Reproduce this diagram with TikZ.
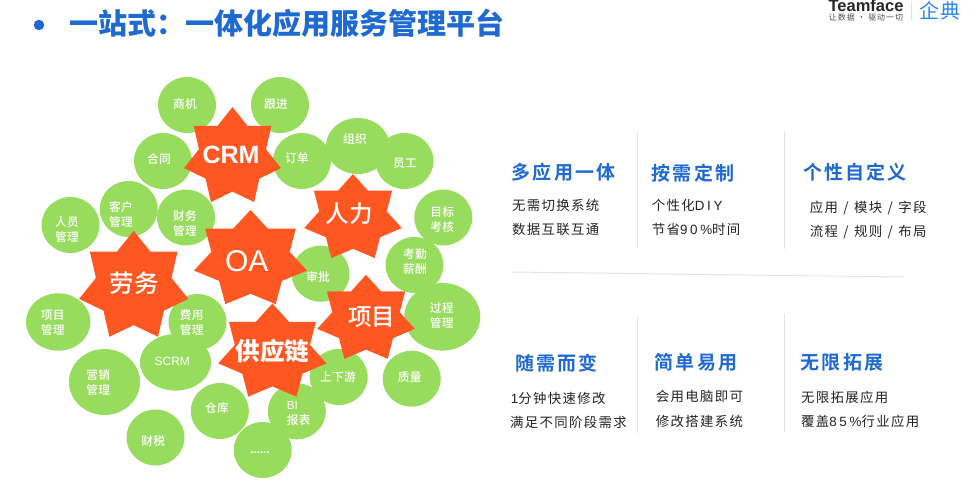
\documentclass[tikz,border=0pt]{standalone}
\usepackage{fontspec}
\usetikzlibrary{shapes.geometric}
\setmainfont{Noto Sans CJK SC}
\newfontfamily\latf{Liberation Sans}
\newfontfamily\medf{Noto Sans CJK SC Medium}
\newfontfamily\bubf[LetterSpace=3]{Noto Sans CJK SC Medium}
\newfontfamily\bodyf[LetterSpace=10,WordSpace=1.25]{Noto Sans CJK SC}
\newfontfamily\bodylat[LetterSpace=20]{Liberation Sans}
\newfontfamily\headf[LetterSpace=11]{Noto Sans CJK SC Bold}
\newfontfamily\logosub[LetterSpace=12]{Noto Sans CJK SC}
\newfontfamily\logocn[LetterSpace=8]{Noto Sans CJK SC}
\definecolor{leaf}{HTML}{98DC5E}
\definecolor{flame}{HTML}{FF5722}
\definecolor{titleblue}{HTML}{1E69D2}
\definecolor{logoblue}{HTML}{2B85F5}
\definecolor{rulegrey}{HTML}{E3E3E3}
\definecolor{inktext}{HTML}{222222}
\tikzset{
  bubble/.style={ellipse,fill=leaf,draw=none,inner sep=0pt,outer sep=0pt},
  bubtext/.style={text=white,align=center,inner sep=0pt,font=\bubf\fontsize{11.7}{15}\selectfont},
  startext/.style={text=white,inner sep=0pt},
  head/.style={text=titleblue,anchor=west,inner sep=0pt,font=\headf\fontsize{19}{21}\selectfont},
  body/.style={text=inktext,anchor=west,inner sep=0pt,font=\bodyf\fontsize{13.4}{15}\selectfont},
  divider/.style={draw=rulegrey,line width=1pt}
}
% \bub{name}{cx}{cy}{rx}{ry}
\newcommand{\bub}[5]{\node[bubble,minimum width=#4*2pt,minimum height=#5*2pt] (#1) at (#2,#3) {};}
% \hstar{cx}{cy}{Rx}{Ry}
\newcommand{\hstar}[4]{\fill[flame] plot[samples at={0,...,13},variable=\k]
  ({#1+(Mod(\k,2)==0?1:0.692)*#3*cos(90+\k*25.7143)},{#2-(Mod(\k,2)==0?1:0.692)*#4*sin(90+\k*25.7143)}) -- cycle;}
\begin{document}
\begin{tikzpicture}[x=1pt,y=-1pt]
\useasboundingbox (0,0) rectangle (976,486);
\begin{scope}
\clip (0,0) rectangle (976,486);
% title
\node[circle,fill=titleblue,inner sep=0pt,minimum size=10.5pt] (bullet) at (39,25) {};
\node[anchor=west,inner sep=0pt,text=titleblue,font=\bfseries\fontsize{29}{32}\selectfont] (title) at (69,23) {一站式：一体化应用服务管理平台};
% logo
\node[inner sep=0pt,text=black!85,font=\latf\bfseries\fontsize{16.5}{18}\selectfont] (logo) at (866,5.5) {Teamface};
\node[inner sep=0pt,text=black!70,font=\logosub\fontsize{8}{9}\selectfont] (logosub) at (866,17) {让数据 • 驱动一切};
\draw[divider] (911,1) -- (911,20);
\node[inner sep=0pt,text=logoblue,font=\logocn\fontsize{20}{22}\selectfont] (logocn) at (940,11) {企典};
% bubbles
\bub{b1}{187}{105}{29}{28}
\bub{b2}{280}{105}{29}{28}
\bub{b3}{163}{161}{29}{28}
\bub{b4}{128.7}{209}{29}{28}
\bub{b5}{186}{217.5}{29}{28}
\bub{b6}{70.5}{225}{29}{28}
\bub{b7}{302}{161}{29}{28}
\bub{b8}{357.7}{146}{31.7}{28}
\bub{b9}{404.5}{161}{29}{28}
\bub{b10}{443.3}{217.5}{29}{28}
\bub{b11}{414.5}{265}{29}{28}
\bub{b12}{320.5}{273.7}{29}{28}
\bub{b13}{442.3}{316.8}{38}{33.8}
\bub{b14}{338.7}{377}{29}{28}
\bub{b15}{411.7}{378.7}{29}{28}
\bub{b16}{296.8}{411.3}{29}{28}
\bub{b17}{262.7}{450}{29}{28}
\bub{b18}{219.8}{411}{29}{28}
\bub{b19}{58.2}{322}{32.2}{28.7}
\bub{b20}{197.5}{322}{29}{28}
\bub{b21}{175.5}{362.3}{35.5}{28.3}
\bub{b22}{104.5}{382}{35.5}{33}
\bub{b23}{155.5}{437.5}{29}{28}
% stars
\hstar{232.5}{157}{49.7}{50}
\hstar{353}{218.2}{50}{44.2}
\hstar{250.5}{259.5}{58}{49.5}
\hstar{133.7}{286.5}{56}{55.8}
\hstar{366}{319}{50}{44.2}
\hstar{272.4}{352.5}{55.6}{49}
% star labels
\node[startext,font=\latf\bfseries\fontsize{25}{28}\selectfont] (crm) at (231,155) {CRM};
\node[startext,font=\medf\fontsize{23.5}{26}\selectfont] (hr) at (349,214) {人力};
\node[startext,font=\latf\fontsize{30}{32}\selectfont] (oa) at (246.7,260.7) {OA};
\node[startext,font=\medf\fontsize{24.5}{26}\selectfont] (labor) at (134,283.3) {劳务};
\node[startext,font=\medf\fontsize{23.5}{26}\selectfont] (proj) at (371.7,317.3) {项目};
\node[startext,font=\bfseries\fontsize{24.5}{26}\selectfont] (supply) at (272.3,351) {供应链};
% bubble labels
\node[bubtext] (t1) at (185,104) {商机};
\node[bubtext] (t2) at (276,104) {跟进};
\node[bubtext] (t3) at (159,159) {合同};
\node[bubtext] (t4) at (121,215) {客户\\管理};
\node[bubtext] (t5) at (185,224) {财务\\管理};
\node[bubtext] (t6) at (67,230) {人员\\管理};
\node[bubtext] (t7) at (297,158) {订单};
\node[bubtext] (t8) at (355,139) {组织};
\node[bubtext] (t9) at (405,163) {员工};
\node[bubtext] (t10) at (442.3,220) {目标\\考核};
\node[bubtext] (t11) at (415,262) {考勤\\薪酬};
\node[bubtext] (t12) at (318,277) {审批};
\node[bubtext] (t13) at (441.7,315.5) {过程\\管理};
\node[bubtext] (t14) at (338,377) {上下游};
\node[bubtext] (t15) at (409.7,376.7) {质量};
\node[bubtext,align=left] (t16) at (298.7,413) {{\latf BI}\\报表};
\node[bubtext,font=\latf\bfseries\fontsize{11.5}{15}\selectfont] (t17) at (260,453) {......};
\node[bubtext] (t18) at (217,407.7) {仓库};
\node[bubtext] (t19) at (52.7,323) {项目\\管理};
\node[bubtext] (t20) at (191.7,323) {费用\\管理};
\node[bubtext,font=\latf\fontsize{12}{15}\selectfont] (t21) at (172.3,361.7) {SCRM};
\node[bubtext] (t22) at (98.3,383) {营销\\管理};
\node[bubtext] (t23) at (153.3,440.7) {财税};
% dividers
\draw[divider] (637,131) -- (637,249);
\draw[divider] (784,131) -- (784,249);
\draw[divider] (637,316) -- (637,434);
\draw[divider] (784,314) -- (784,432);
\draw[divider] (512,272) -- (904,277);
% right side text
\node[head] (h1) at (511.7,172.7) {多应用一体};
\node[body] (a1) at (512,205.7) {无需切换系统};
\node[body] (a2) at (512,229.7) {数据互联互通};
\node[head] (h2) at (651.7,173) {按需定制};
\node[body] (a3) at (651.7,205.7) {个性化{\bodylat DIY}};
\node[body] (a4) at (651.7,229.7) {节省{\bodylat 90\%}时间};
\node[head] (h3) at (803,172.7) {个性自定义};
\node[body] (a5) at (809.7,207.7) {应用 / 模块 / 字段};
\node[body] (a6) at (809.7,231.7) {流程 / 规则 / 布局};
\node[head] (h4) at (515,363.3) {随需而变};
\node[body] (a7) at (510.7,398.7) {{\bodylat 1}分钟快速修改};
\node[body] (a8) at (510,422.3) {满足不同阶段需求};
\node[head] (h5) at (654.7,362.3) {简单易用};
\node[body] (a9) at (655.7,396.7) {会用电脑即可};
\node[body] (a10) at (655.7,421) {修改搭建系统};
\node[head] (h6) at (800.7,362) {无限拓展};
\node[body] (a11) at (801,397) {无限拓展应用};
\node[body] (a12) at (801,421.7) {覆盖{\bodylat 85\%}行业应用};
\end{scope}
\end{tikzpicture}
\end{document}
